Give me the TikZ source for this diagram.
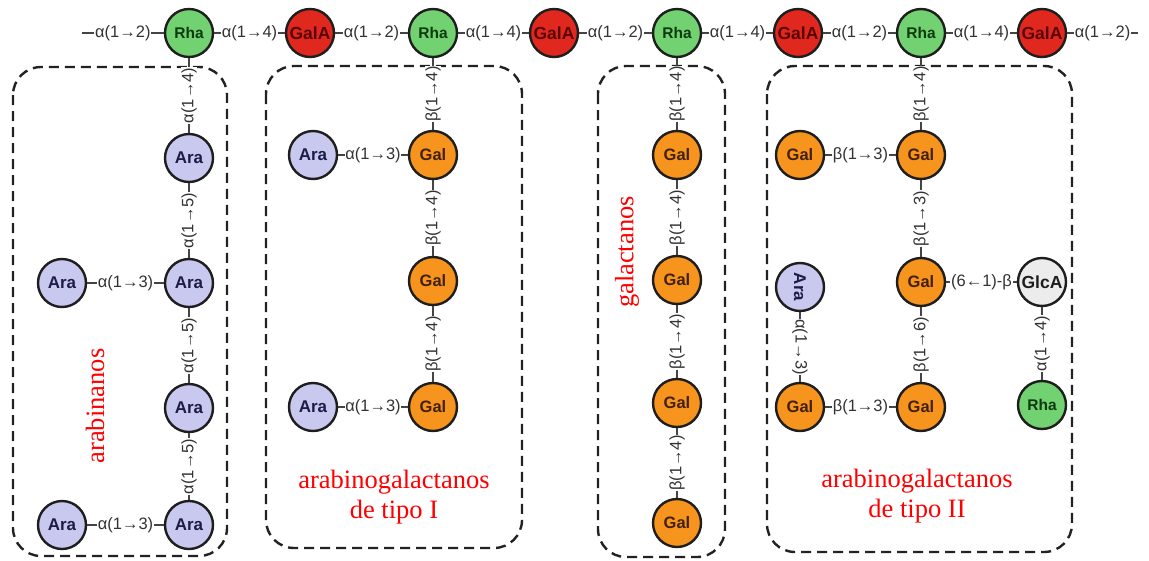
\documentclass[tikz,border=0pt]{standalone}
\usepackage{fontspec}
\setmainfont{Liberation Serif}
\setsansfont{Liberation Sans}
\definecolor{rhafill}{HTML}{72D272}
\definecolor{rhatext}{HTML}{0E3A0E}
\definecolor{galafill}{HTML}{E0281E}
\definecolor{galatext}{HTML}{5A0505}
\definecolor{arafill}{HTML}{C9C9F0}
\definecolor{aratext}{HTML}{1C1C48}
\definecolor{galfill}{HTML}{F6941E}
\definecolor{galtext}{HTML}{42200A}
\definecolor{glcfill}{HTML}{ECECEC}
\definecolor{glctext}{HTML}{1E1E1E}
\definecolor{nodeborder}{HTML}{1E1E1E}
\definecolor{linkgray}{HTML}{444444}
\definecolor{lbltext}{HTML}{333333}
\definecolor{boxc}{HTML}{222222}
\begin{document}
\begin{tikzpicture}[x=1pt,y=-1pt,
  sug/.style={circle, draw=nodeborder, line width=2.4pt, minimum size=48pt, inner sep=0pt},
  rha/.style={sug, fill=rhafill, text=rhatext, font=\sffamily\bfseries\fontsize{15.5}{16}\selectfont},
  gala/.style={sug, fill=galafill, text=galatext, font=\sffamily\bfseries\fontsize{17.5}{18}\selectfont},
  ara/.style={sug, fill=arafill, text=aratext, font=\sffamily\bfseries\fontsize{17}{18}\selectfont},
  gal/.style={sug, fill=galfill, text=galtext, font=\sffamily\bfseries\fontsize{16.5}{17}\selectfont},
  glc/.style={sug, fill=glcfill, text=glctext, font=\sffamily\bfseries\fontsize{17.5}{18}\selectfont},
  lnk/.style={draw=linkgray, line width=1.1pt},
  lbl/.style={fill=white, inner sep=0.8pt, text=lbltext, font=\sffamily\fontsize{16.5}{16.5}\selectfont},
  vlbl/.style={lbl, rotate=90},
  vlbldown/.style={lbl, rotate=-90},
  dbox/.style={draw=boxc, line width=2.4pt, dash pattern=on 10pt off 6pt, rounded corners=28pt},
  redlbl/.style={text=red, font=\rmfamily\fontsize{26.5}{30}\selectfont, align=center, inner sep=0pt}
]
\useasboundingbox (0,0) rectangle (1149,560);
% boxes
\draw[dbox] (13,67) rectangle (227,556);
\draw[dbox] (266,66) rectangle (522,548);
\draw[dbox] (598,66) rectangle (725,557);
\draw[dbox] (767,66) rectangle (1072,552);
% red labels
\node[redlbl, rotate=90] (tArab) at (95,406) {arabinanos};
\node[redlbl] (tAG1) at (394,497) {arabinogalactanos\\de tipo I};
\node[redlbl, rotate=90] (tGal) at (627,252) {galactanos};
\node[redlbl] (tAG2) at (917,496) {arabinogalactanos\\de tipo II};
% backbone
\coordinate (c0) at (82,33);
\coordinate (c9) at (1138,33);
\node[rha] (r1) at (189,33) {Rha};
\node[gala] (g1) at (310,33) {GalA};
\node[rha] (r2) at (433,33) {Rha};
\node[gala] (g2) at (554,33) {GalA};
\node[rha] (r3) at (677,33) {Rha};
\node[gala] (g3) at (798,33) {GalA};
\node[rha] (r4) at (921,33) {Rha};
\node[gala] (g4) at (1042,33) {GalA};
\draw[lnk] (c0) -- node[lbl]{α(1→2)} (r1);
\draw[lnk] (r1) -- node[lbl]{α(1→4)} (g1);
\draw[lnk] (g1) -- node[lbl]{α(1→2)} (r2);
\draw[lnk] (r2) -- node[lbl]{α(1→4)} (g2);
\draw[lnk] (g2) -- node[lbl]{α(1→2)} (r3);
\draw[lnk] (r3) -- node[lbl]{α(1→4)} (g3);
\draw[lnk] (g3) -- node[lbl]{α(1→2)} (r4);
\draw[lnk] (r4) -- node[lbl]{α(1→4)} (g4);
\draw[lnk] (g4) -- node[lbl]{α(1→2)} (c9);
% box 1 arabinanos
\node[ara] (a1) at (189,158) {Ara};
\node[ara] (a2) at (189,283) {Ara};
\node[ara] (a2l) at (62,283) {Ara};
\node[ara] (a3) at (189,408) {Ara};
\node[ara] (a4) at (189,525) {Ara};
\node[ara] (a4l) at (62,525) {Ara};
\draw[lnk] (r1) -- node[vlbl]{α(1→4)} (a1);
\draw[lnk] (a1) -- node[vlbl]{α(1→5)} (a2);
\draw[lnk] (a2) -- node[vlbl]{α(1→5)} (a3);
\draw[lnk] (a3) -- node[vlbl]{α(1→5)} (a4);
\draw[lnk] (a2l) -- node[lbl]{α(1→3)} (a2);
\draw[lnk] (a4l) -- node[lbl]{α(1→3)} (a4);
% box 2 AG I
\node[gal] (b1) at (433,155) {Gal};
\node[ara] (b1l) at (313,155) {Ara};
\node[gal] (b2) at (433,281) {Gal};
\node[gal] (b3) at (433,407) {Gal};
\node[ara] (b3l) at (313,407) {Ara};
\draw[lnk] (r2) -- node[vlbl]{β(1→4)} (b1);
\draw[lnk] (b1) -- node[vlbl]{β(1→4)} (b2);
\draw[lnk] (b2) -- node[vlbl]{β(1→4)} (b3);
\draw[lnk] (b1l) -- node[lbl]{α(1→3)} (b1);
\draw[lnk] (b3l) -- node[lbl]{α(1→3)} (b3);
% box 3 galactanos
\node[gal] (k1) at (677,155) {Gal};
\node[gal] (k2) at (677,280) {Gal};
\node[gal] (k3) at (677,403) {Gal};
\node[gal] (k4) at (677,523) {Gal};
\draw[lnk] (r3) -- node[vlbl]{β(1→4)} (k1);
\draw[lnk] (k1) -- node[vlbl]{β(1→4)} (k2);
\draw[lnk] (k2) -- node[vlbl]{β(1→4)} (k3);
\draw[lnk] (k3) -- node[vlbl]{β(1→4)} (k4);
% box 4 AG II
\node[gal] (m1) at (921,155) {Gal};
\node[gal] (m1l) at (800,155) {Gal};
\node[gal] (m2) at (921,282) {Gal};
\node[glc] (m2r) at (1042,282) {GlcA};
\node[ara, rotate=-90] (m2l) at (800,287) {Ara};
\node[gal] (m3) at (921,407) {Gal};
\node[gal] (m3l) at (800,407) {Gal};
\node[rha] (m3r) at (1042,405) {Rha};
\draw[lnk] (r4) -- node[vlbl]{β(1→4)} (m1);
\draw[lnk] (m1l) -- node[lbl]{β(1→3)} (m1);
\draw[lnk] (m1) -- node[vlbl]{β(1→3)} (m2);
\draw[lnk] (m2) -- node[lbl]{(6←1)-β} (m2r);
\draw[lnk] (m2) -- node[vlbl]{β(1→6)} (m3);
\draw[lnk] (m2r) -- node[vlbl]{α(1→4)} (m3r);
\draw[lnk] (m2l) -- node[vlbldown]{α(1→3)} (m3l);
\draw[lnk] (m3l) -- node[lbl]{β(1→3)} (m3);
\end{tikzpicture}
\end{document}
